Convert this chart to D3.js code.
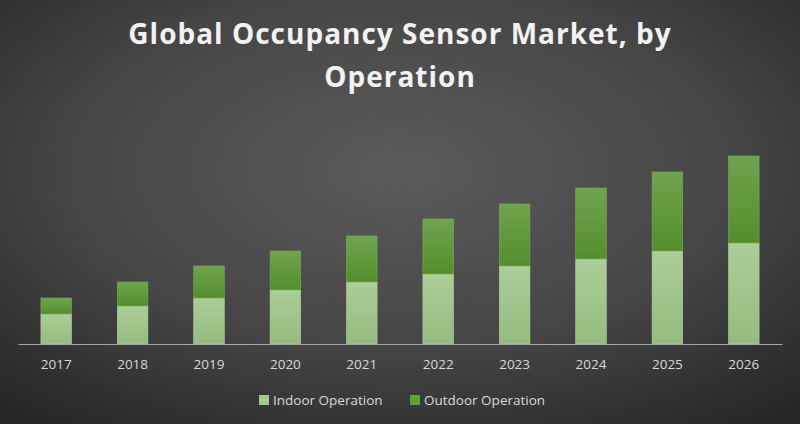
<!DOCTYPE html>
<html>
<head>
<meta charset="utf-8">
<script src="https://cdn.jsdelivr.net/npm/d3@7"></script>
<style>
  html, body { margin: 0; padding: 0; background: #333; }
  svg { display: block; }
</style>
</head>
<body>
<div class="chart"></div>
<script>
// values (no y axis shown, arbitrary units)
const years = ["2017", "2018", "2019", "2020", "2021", "2022", "2023", "2024", "2025", "2026"]
const indoor = [3.0, 3.8, 4.6, 5.4, 6.2, 7.0, 7.8, 8.5, 9.3, 10.1]
const outdoor = [1.6, 2.4, 3.2, 3.9, 4.6, 5.5, 6.2, 7.1, 7.9, 8.7]
const seriesNames = ["Indoor Operation", "Outdoor Operation"]

const width = 800, height = 424
const margin = {top: 144, right: 18, bottom: 80, left: 18}

const svg = d3.select(".chart")
    .append("svg")
    .attr("width", width)
    .attr("height", height)

const defs = svg.append("defs")

const bg = defs.append("radialGradient")
    .attr("id", "bg")
    .attr("cx", "50%").attr("cy", "40%").attr("r", "75%")
bg.append("stop").attr("offset", "0%").attr("stop-color", "#5b5b5b")
bg.append("stop").attr("offset", "55%").attr("stop-color", "#464646")
bg.append("stop").attr("offset", "100%").attr("stop-color", "#262626")

function vGrad(id, top, bottom) {
    const g = defs.append("linearGradient")
        .attr("id", id)
        .attr("x1", 0).attr("y1", 0).attr("x2", 0).attr("y2", 1)
    g.append("stop").attr("offset", "0%").attr("stop-color", top)
    g.append("stop").attr("offset", "100%").attr("stop-color", bottom)
}
vGrad("gIndoor", "#acce99", "#94bb7f")
vGrad("gOutdoor", "#70a34e", "#538e2c")

svg.append("rect")
    .attr("width", width)
    .attr("height", height)
    .attr("fill", "url(#bg)")

// title
const title = svg.append("text")
    .attr("text-anchor", "middle")
    .attr("fill", "#f2f2f2")
    .attr("font-family", "'Open Sans', sans-serif")
    .attr("font-weight", "bold")
    .attr("font-size", 28)
    .attr("letter-spacing", 1)
title.append("tspan").attr("x", 400).attr("y", 44).text("Global Occupancy Sensor Market, by")
title.append("tspan").attr("x", 400).attr("y", 87).text("Operation")

const data = years.map((y, i) => ({year: y, indoor: indoor[i], outdoor: outdoor[i]}))
const stacked = d3.stack().keys(["indoor", "outdoor"])(data)

let x = d3.scaleBand()
    .range([margin.left, width - margin.right])
    .domain(years)
    .paddingInner(0.6)
    .paddingOuter(0.3)

let y = d3.scaleLinear()
    .domain([0, 20])
    .range([height - margin.bottom, margin.top])

const fills = ["url(#gIndoor)", "url(#gOutdoor)"]
const strokes = ["#b4d3a2", "#7aab5a"]

svg.selectAll("g.layer")
    .data(stacked)
    .enter()
    .append("g")
        .attr("class", "layer")
        .attr("fill", (d, i) => fills[i])
        .attr("stroke", (d, i) => strokes[i])
        .attr("stroke-width", 0.6)
    .selectAll("rect")
    .data(d => d)
    .enter()
    .append("rect")
        .attr("x", d => x(d.data.year))
        .attr("y", d => y(d[1]))
        .attr("width", x.bandwidth())
        .attr("height", d => y(d[0]) - y(d[1]))

// x axis
const xAxis = svg.append("g")
    .attr("transform", "translate(0," + y(0) + ")")
    .call(d3.axisBottom(x).tickSize(0).tickPadding(15))
xAxis.select(".domain")
    .attr("stroke", "#a6a6a6")
    .attr("stroke-width", 1.2)
xAxis.selectAll("text")
    .attr("fill", "#d9d9d9")
    .attr("font-family", "'Open Sans', sans-serif")
    .attr("font-size", 13.5)

// legend
const legendX = [259, 410]
const legend = svg.selectAll("g.legend")
    .data(seriesNames)
    .enter()
    .append("g")
        .attr("class", "legend")
        .attr("transform", (d, i) => "translate(" + legendX[i] + ",396)")
legend.append("rect")
    .attr("width", 10)
    .attr("height", 10)
    .attr("y", -1)
    .attr("fill", (d, i) => i == 0 ? "#a4c98f" : "#62a03b")
legend.append("text")
    .attr("x", 14)
    .attr("y", 9)
    .attr("fill", "#d9d9d9")
    .attr("font-family", "'Open Sans', sans-serif")
    .attr("font-size", 13.5)
    .text(d => d)
</script>
</body>
</html>
